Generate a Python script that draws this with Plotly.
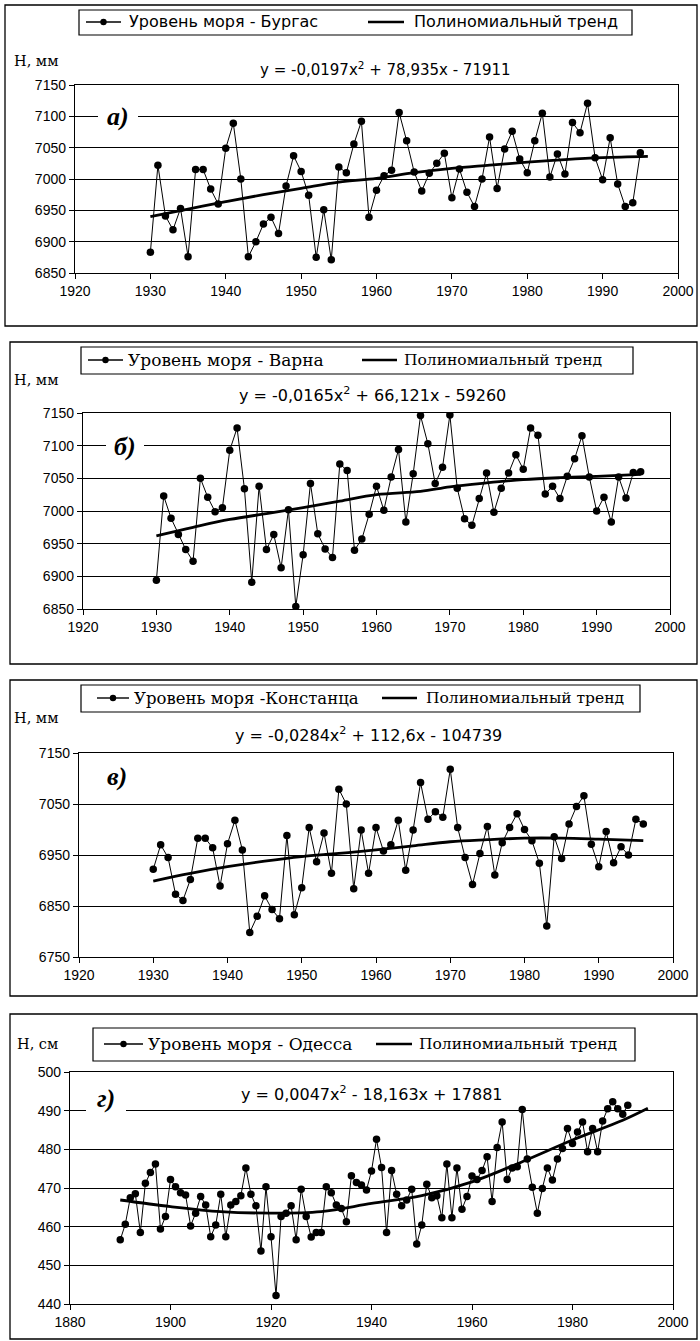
import plotly.graph_objects as go

W, H = 700, 1341
def px(x): return x / W
def py(y): return 1 - y / H

# ---------------- data ----------------
years_a = list(range(1930, 1996))
burgas = [6883, 7022, 6941, 6919, 6953, 6876, 7015, 7015, 6984, 6960,
          7049, 7089, 7000, 6876, 6900, 6928, 6939, 6913, 6989, 7037,
          7012, 6974, 6875, 6951, 6871, 7019, 7010, 7056, 7092, 6939,
          6982, 7005, 7014, 7106, 7061, 7011, 6981, 7009, 7025, 7041,
          6970, 7016, 6979, 6956, 7000, 7067, 6985, 7048, 7076, 7032,
          7010, 7061, 7105, 7003, 7040, 7008, 7090, 7074, 7121, 7034,
          6999, 7066, 6992, 6956, 6962, 7042]
trend_a_years = [1930, 1935, 1940, 1945, 1950, 1955, 1960, 1965, 1970, 1975, 1980, 1985, 1990, 1996]
trend_a = [6940, 6952, 6964, 6975, 6985, 6995, 7001, 7010, 7017, 7022, 7027, 7031, 7034, 7036]

years_b = list(range(1930, 1997))
varna = [6894, 7023, 6989, 6964, 6941, 6923, 7050, 7021, 6999, 7005,
         7093, 7127, 7034, 6891, 7038, 6941, 6964, 6913, 7002, 6854,
         6933, 7042, 6965, 6942, 6929, 7072, 7062, 6940, 6957, 6995,
         7038, 7001, 7052, 7094, 6983, 7057, 7146, 7103, 7042, 7067,
         7147, 7035, 6988, 6978, 7019, 7058, 6998, 7035, 7058, 7086,
         7064, 7127, 7116, 7026, 7038, 7019, 7053, 7080, 7115, 7052,
         7000, 7021, 6983, 7052, 7020, 7059, 7060]
trend_b_years = [1930, 1935, 1940, 1945, 1950, 1955, 1960, 1966, 1970, 1975, 1980, 1985, 1990, 1996]
trend_b = [6962, 6975, 6987, 6996, 7005, 7015, 7025, 7030, 7037, 7043, 7048, 7051, 7053, 7056]

years_c = list(range(1930, 1997))
constanta = [6922, 6970, 6945, 6873, 6861, 6902, 6983, 6983, 6964, 6889,
             6972, 7018, 6960, 6798, 6830, 6870, 6843, 6825, 6988, 6833,
             6886, 7004, 6937, 6993, 6914, 7079, 7050, 6884, 6999, 6914,
             7004, 6958, 6970, 7018, 6920, 6999, 7092, 7020, 7035, 7024,
             7118, 7004, 6945, 6892, 6953, 7006, 6911, 6974, 7004, 7031,
             7000, 6978, 6934, 6811, 6986, 6943, 7011, 7045, 7066, 6971,
             6927, 6996, 6935, 6966, 6950, 7020, 7011]
trend_c_years = [1930, 1935, 1940, 1945, 1950, 1955, 1960, 1965, 1970, 1975, 1980, 1985, 1990, 1996]
trend_c = [6899, 6914, 6927, 6938, 6947, 6953, 6960, 6968, 6976, 6980, 6983, 6983, 6981, 6978]

years_d = list(range(1890, 1992))
odessa = [456.6, 460.6, 467.5, 468.5, 458.5, 471.2, 474.0, 476.2, 459.4, 462.6,
          472.2, 470.3, 468.8, 468.2, 460.2, 463.5, 467.8, 465.6, 457.4, 460.4,
          468.4, 457.4, 465.6, 466.5, 468.0, 475.2, 468.4, 465.4, 453.7, 470.3,
          457.4, 442.2, 462.6, 463.5, 465.4, 456.6, 469.7, 462.6, 457.3, 458.5,
          458.5, 470.3, 468.8, 465.6, 464.7, 461.3, 473.2, 471.4, 470.8, 469.5,
          474.4, 482.6, 475.3, 458.5, 474.5, 468.4, 465.4, 466.9, 469.7, 455.5,
          460.4, 471.0, 467.5, 468.0, 462.3, 476.2, 462.3, 475.2, 464.5, 467.8,
          473.1, 472.2, 474.5, 478.1, 466.5, 480.5, 487.1, 472.2, 475.2, 475.5,
          490.3, 477.5, 470.2, 463.5, 469.9, 475.2, 472.1, 477.5, 480.2, 485.4,
          481.5, 484.5, 487.1, 479.4, 485.4, 479.4, 487.3, 490.5, 492.3, 490.5,
          489.1, 491.4]
trend_d_years = [1890, 1900, 1910, 1920, 1930, 1940, 1950, 1960, 1970, 1980, 1990, 1995]
trend_d = [466.9, 465.2, 463.9, 463.5, 463.9, 466.0, 468.0, 471.6, 476.8, 482.4, 487.5, 490.6]

legend_series = ["Уровень моря - Бургас", "Уровень моря - Варна",
                 "Уровень моря -Констанца", "Уровень моря - Одесса"]
trend_name = "Полиномиальный тренд"
equations = ["y = -0,0197x<sup>2</sup> + 78,935x - 71911",
             "y = -0,0165x<sup>2</sup> + 66,121x - 59260",
             "y = -0,0284x<sup>2</sup> + 112,6x - 104739",
             "y = 0,0047x<sup>2</sup> - 18,163x + 17881"]
unit_labels = ["Н, мм", "Н, мм", "Н, мм", "Н, см"]
panel_labels = ["а)", "б)", "в)", "г)"]

# ---------------- layout helpers ----------------
SANS = "DejaVu Sans"
SERIF = "DejaVu Serif"
TICKFONT = dict(family="Liberation Sans", size=14, color="black")

fig = go.Figure()

panels = [
    dict(x=(75, 678), y=(85, 273), xr=[1920, 2000], xd=10, yr=[6850, 7150], yd=50),
    dict(x=(83, 670), y=(413, 609), xr=[1920, 2000], xd=10, yr=[6850, 7150], yd=50),
    dict(x=(79, 673), y=(753, 957), xr=[1920, 2000], xd=10, yr=[6750, 7150], yd=100),
    dict(x=(70, 673), y=(1072, 1304), xr=[1880, 2000], xd=20, yr=[440, 500], yd=10),
]
series = [(years_a, burgas, trend_a_years, trend_a),
          (years_b, varna, trend_b_years, trend_b),
          (years_c, constanta, trend_c_years, trend_c),
          (years_d, odessa, trend_d_years, trend_d)]

layout_axes = {}
for i, (p, s) in enumerate(zip(panels, series)):
    n = "" if i == 0 else str(i + 1)
    xa, ya = "x" + n, "y" + n
    layout_axes["xaxis" + n] = dict(
        domain=[px(p["x"][0]), px(p["x"][1])], range=p["xr"], dtick=p["xd"], tick0=p["xr"][0],
        anchor=ya, showgrid=False, zeroline=False, showline=True, linecolor="black",
        linewidth=1.2, mirror=True, ticks="outside", ticklen=5, tickcolor="black",
        tickfont=TICKFONT, fixedrange=True, automargin=False)
    layout_axes["yaxis" + n] = dict(
        domain=[py(p["y"][1]), py(p["y"][0])], range=p["yr"], dtick=p["yd"], tick0=p["yr"][0],
        anchor=xa, showgrid=True, gridcolor="black", gridwidth=1, zeroline=False,
        showline=True, linecolor="black", linewidth=1.2, mirror=True, ticks="outside",
        ticklen=5, tickcolor="black", tickfont=TICKFONT, fixedrange=True, automargin=False)
    yrs, vals, tyrs, tvals = s
    fig.add_trace(go.Scatter(x=yrs, y=vals, mode="lines+markers", xaxis=xa, yaxis=ya,
                             line=dict(color="black", width=1),
                             marker=dict(color="black", size=7.5), showlegend=False,
                             hoverinfo="skip"))
    fig.add_trace(go.Scatter(x=tyrs, y=tvals, mode="lines", xaxis=xa, yaxis=ya,
                             line=dict(color="black", width=2.8, shape="spline"),
                             showlegend=False, hoverinfo="skip"))

shapes = []
annotations = []

def rect(x0, y0, x1, y1, w=1.3, fill="rgba(0,0,0,0)", lc="black"):
    shapes.append(dict(type="rect", xref="paper", yref="paper", x0=px(x0), x1=px(x1),
                       y0=py(y1), y1=py(y0), line=dict(color=lc, width=w),
                       fillcolor=fill, layer="above"))

def hline(x0, x1, y, w):
    shapes.append(dict(type="line", xref="paper", yref="paper", x0=px(x0), x1=px(x1),
                       y0=py(y), y1=py(y), line=dict(color="black", width=w)))

def dot(cx, cy, r=3.2):
    shapes.append(dict(type="circle", xref="paper", yref="paper", x0=px(cx - r), x1=px(cx + r),
                       y0=py(cy + r), y1=py(cy - r), fillcolor="black",
                       line=dict(color="black", width=0)))

def text(x, y, t, family, size, xanchor="left", **kw):
    annotations.append(dict(xref="paper", yref="paper", x=px(x), y=py(y), text=t,
                            showarrow=False, xanchor=xanchor, yanchor="middle",
                            font=dict(family=family, size=size, color="black"), **kw))

# outer frames
frames = [(5, 5, 697, 326), (10, 342, 697, 664), (10, 680, 697, 996), (10, 1014, 697, 1339)]
for f in frames:
    rect(*f, w=1.3)

# legends
legends = [
    dict(box=(79, 10, 632, 35), y=22, s1=(86, 121), t1=127, s2=(368, 404), t2=412,
         fam=SANS, size1=16, size2=16),
    dict(box=(81, 347, 633, 374), y=360, s1=(88, 123), t1=126, s2=(362, 397), t2=402,
         fam=SERIF, size1=17, size2=15.5),
    dict(box=(81, 685, 640, 712), y=698, s1=(97, 129), t1=132, s2=(382, 417), t2=424,
         fam=SERIF, size1=16.5, size2=15.5),
    dict(box=(93, 1028, 635, 1061), y=1044, s1=(104, 143), t1=146, s2=(376, 412), t2=417,
         fam=SERIF, size1=17, size2=15.5),
]
for i, L in enumerate(legends):
    rect(*L["box"], w=1.2)
    hline(L["s1"][0], L["s1"][1], L["y"], 1.4)
    dot((L["s1"][0] + L["s1"][1]) / 2, L["y"])
    text(L["t1"], L["y"], legend_series[i], L["fam"], L["size1"])
    hline(L["s2"][0], L["s2"][1], L["y"], 2.6)
    text(L["t2"], L["y"], trend_name, L["fam"], L["size2"])

# unit labels
unit_pos = [(36, 61), (36, 380), (36, 718), (37, 1044)]
for (x, y), t in zip(unit_pos, unit_labels):
    text(x, y, t, SERIF, 14.5, xanchor="center")

# equations
eq_specs = [(385, 69, SANS, 15), (373, 395, SANS, 16),
            (368, 735, SANS, 16), (372, 1093, SANS, 16)]
for (x, y, fam, sz), t in zip(eq_specs, equations):
    text(x, y, t, fam, sz, xanchor="center")

# panel labels: a white patch hides the gridline behind each label
lab_pos = [(118, 116, 40, 26), (125, 446, 38, 28), (117, 776, 32, 28), (106, 1098, 40, 28)]
for (x, y, w, h), t in zip(lab_pos, panel_labels):
    rect(x - w / 2, y - h / 2, x + w / 2, y + h / 2, w=0, fill="white", lc="white")
    text(x, y, "<b><i>" + t + "</i></b>", "Liberation Serif", 26, xanchor="center")

fig.update_layout(width=W, height=H, margin=dict(l=0, r=0, t=0, b=0, autoexpand=False),
                  paper_bgcolor="white", plot_bgcolor="white", showlegend=False,
                  shapes=shapes, annotations=annotations, **layout_axes)

fig.write_html("out.html", config={"displayModeBar": False, "staticPlot": True},
               post_script="document.body.style.margin='0';"
                           "document.body.style.overflow='hidden';"
                           "document.documentElement.style.overflow='hidden';")
